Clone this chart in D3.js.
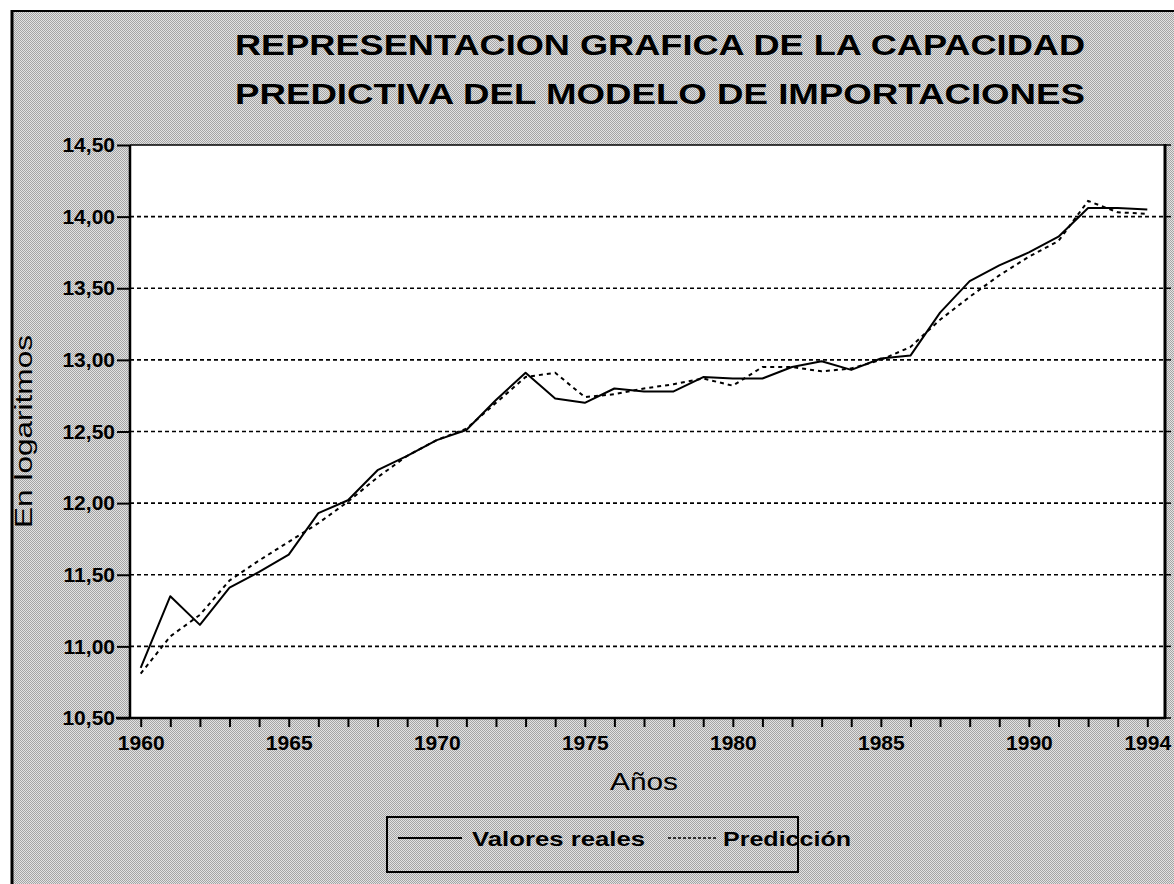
<!DOCTYPE html>
<html><head><meta charset="utf-8">
<script src="https://cdn.jsdelivr.net/npm/d3@7/dist/d3.min.js"></script>
<style>html,body{margin:0;padding:0;background:#fff;}svg{display:block;}</style>
</head><body>
<svg id="chart" width="1174" height="884"></svg>
<script>
const titleLines = ["REPRESENTACION GRAFICA DE LA CAPACIDAD", "PREDICTIVA DEL MODELO DE IMPORTACIONES"];
const years = [1960,1961,1962,1963,1964,1965,1966,1967,1968,1969,1970,1971,1972,1973,1974,1975,1976,1977,1978,1979,1980,1981,1982,1983,1984,1985,1986,1987,1988,1989,1990,1991,1992,1993,1994];
const realValues = [10.85,11.35,11.15,11.41,11.52,11.64,11.93,12.02,12.23,12.33,12.44,12.51,12.72,12.91,12.73,12.70,12.80,12.78,12.78,12.88,12.87,12.87,12.95,12.99,12.93,13.01,13.03,13.33,13.55,13.66,13.75,13.86,14.06,14.06,14.05];
const predValues = [10.81,11.07,11.22,11.46,11.60,11.73,11.86,12.01,12.18,12.33,12.44,12.52,12.70,12.88,12.91,12.74,12.76,12.80,12.83,12.87,12.82,12.95,12.95,12.92,12.94,13.00,13.09,13.28,13.44,13.59,13.72,13.83,14.11,14.03,14.02];
const yTicks = [10.5,11.0,11.5,12.0,12.5,13.0,13.5,14.0,14.5];
const xLabelYears = [1960,1965,1970,1975,1980,1985,1990,1994];
const yAxisTitle = "En logaritmos";
const xAxisTitle = "Años";
const seriesNames = ["Valores reales", "Predicción"];

const svg = d3.select("#chart");
const font = "'Liberation Sans', Arial, sans-serif";

// stipple background
const defs = svg.append("defs");
const pat = defs.append("pattern").attr("id","stip").attr("width",2).attr("height",2).attr("patternUnits","userSpaceOnUse");
pat.append("rect").attr("width",2).attr("height",2).attr("fill","#e2e2e2");
pat.append("rect").attr("x",0).attr("y",0).attr("width",1).attr("height",1).attr("fill","#a4a4a4");
pat.append("rect").attr("x",1).attr("y",1).attr("width",1).attr("height",1).attr("fill","#a4a4a4");

svg.append("rect").attr("x",12).attr("y",11).attr("width",1162).attr("height",873).attr("fill","url(#stip)");
svg.append("line").attr("x1",12).attr("x2",1174).attr("y1",11).attr("y2",11).attr("stroke","#000").attr("stroke-width",2);
svg.append("line").attr("x1",12).attr("x2",12).attr("y1",10).attr("y2",884).attr("stroke","#000").attr("stroke-width",3);

const L = 130, R = 1165, T = 145, B = 718;
const x = d3.scaleLinear().domain([1960,1994]).range([140.7,1147.3]);
const y = d3.scaleLinear().domain([10.5,14.5]).range([B,T]);

// title
svg.selectAll("text.title").data(titleLines).enter().append("text")
  .attr("class","title")
  .attr("x",235).attr("y",(d,i)=>55+i*49)
  .attr("textLength",850).attr("lengthAdjust","spacingAndGlyphs")
  .attr("font-family",font).attr("font-weight","bold").attr("font-size",29)
  .attr("fill","#000").text(d=>d);

// plot area
svg.append("rect").attr("x",L).attr("y",T).attr("width",R-L).attr("height",B-T).attr("fill","#fff");

// gridlines
svg.append("g").selectAll("line").data(yTicks.filter(v=>v>10.5 && v<14.5)).enter().append("line")
  .attr("x1",L).attr("x2",R).attr("y1",d=>y(d)).attr("y2",d=>y(d))
  .attr("stroke","#000").attr("stroke-width",1.6).attr("stroke-dasharray","4,3");

// lines
const lineGen = vals => d3.line().x((d,i)=>x(years[i])).y(d=>y(d))(vals);
svg.append("path").attr("d",lineGen(predValues)).attr("fill","none").attr("stroke","#000")
  .attr("stroke-width",2).attr("stroke-dasharray","4,4");
svg.append("path").attr("d",lineGen(realValues)).attr("fill","none").attr("stroke","#000")
  .attr("stroke-width",2).attr("stroke-linejoin","round");

// y axis
const yAxis = d3.axisLeft(y).tickValues(yTicks).tickSize(13).tickPadding(2)
  .tickFormat(d=>d3.format(".2f")(d).replace(".",","));
const gy = svg.append("g").attr("transform",`translate(${L},0)`).call(yAxis);
gy.select(".domain").remove();
gy.selectAll(".tick line").attr("stroke","#000").attr("stroke-width",2);
gy.selectAll(".tick text").attr("font-family",font).attr("font-weight","bold").attr("font-size",21).attr("fill","#000");

// right small ticks
svg.append("g").selectAll("line").data(yTicks).enter().append("line")
  .attr("x1",R).attr("x2",R+6).attr("y1",d=>y(d)).attr("y2",d=>y(d)).attr("stroke","#000").attr("stroke-width",1.5);

// x axis
const xAxis = d3.axisBottom(x).tickValues(years).tickSize(9).tickPadding(8)
  .tickFormat(d=>xLabelYears.includes(d)?String(d):"");
const gx = svg.append("g").attr("transform",`translate(0,${B})`).call(xAxis);
gx.select(".domain").remove();
gx.selectAll(".tick line").attr("stroke","#000").attr("stroke-width",2);
gx.selectAll(".tick text").attr("font-family",font).attr("font-weight","bold").attr("font-size",21).attr("fill","#000");

// frame
svg.append("line").attr("x1",L).attr("x2",R).attr("y1",T).attr("y2",T).attr("stroke","#000").attr("stroke-width",1.5);
svg.append("line").attr("x1",116).attr("x2",R+1).attr("y1",B).attr("y2",B).attr("stroke","#000").attr("stroke-width",2.5);
svg.append("line").attr("x1",L).attr("x2",L).attr("y1",T).attr("y2",B).attr("stroke","#000").attr("stroke-width",2.5);
svg.append("line").attr("x1",R).attr("x2",R).attr("y1",T-1).attr("y2",B+1).attr("stroke","#000").attr("stroke-width",3);

// axis titles
svg.append("text").attr("transform","translate(32,528) rotate(-90)")
  .attr("textLength",193).attr("lengthAdjust","spacingAndGlyphs")
  .attr("font-family",font).attr("font-size",23).attr("fill","#000").text(yAxisTitle);
svg.append("text").attr("x",610).attr("y",790)
  .attr("textLength",68).attr("lengthAdjust","spacingAndGlyphs")
  .attr("font-family",font).attr("font-size",23).attr("fill","#000").text(xAxisTitle);

// legend
svg.append("rect").attr("x",387).attr("y",817).attr("width",411).attr("height",55)
  .attr("fill","none").attr("stroke","#000").attr("stroke-width",2);
svg.append("line").attr("x1",398).attr("x2",462).attr("y1",838).attr("y2",838).attr("stroke","#000").attr("stroke-width",2);
svg.append("text").attr("x",472).attr("y",846).attr("textLength",173).attr("lengthAdjust","spacingAndGlyphs")
  .attr("font-family",font).attr("font-weight","bold").attr("font-size",21).attr("fill","#000").text(seriesNames[0]);
svg.append("line").attr("x1",668).attr("x2",717).attr("y1",838).attr("y2",838).attr("stroke","#000").attr("stroke-width",1.5).attr("stroke-dasharray","3,2");
svg.append("text").attr("x",723).attr("y",846).attr("textLength",128).attr("lengthAdjust","spacingAndGlyphs")
  .attr("font-family",font).attr("font-weight","bold").attr("font-size",21).attr("fill","#000").text(seriesNames[1]);
</script>
</body></html>
